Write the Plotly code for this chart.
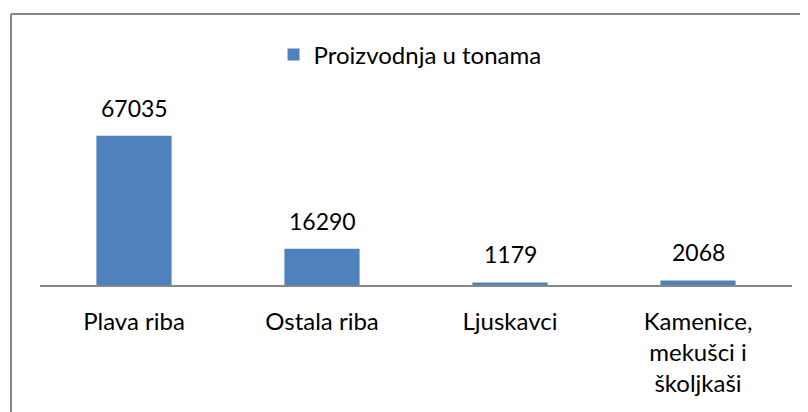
import plotly.graph_objects as go

categories = ["Plava riba", "Ostala riba", "Ljuskavci", "Kamenice,<br>mekušci i<br>školjkaši"]
values = [67035, 16290, 1179, 2068]
series_name = "Proizvodnja u tonama"

FONT = "Lato"
BLUE = "#4F81BD"
GRAY = "#878787"

# page body has an 8px margin, so the figure is 800x404 and offset by 8px
W, H = 800, 404
ml, mr, mt, mb = 32, 16, 99, 127

fig = go.Figure()
fig.add_trace(go.Bar(
    x=categories, y=values, name=series_name,
    marker=dict(color=BLUE, line=dict(width=0)),
    showlegend=True,
))

for c, v in zip(categories, values):
    fig.add_annotation(
        x=c, y=v, text=str(v), showarrow=False,
        yanchor="bottom", yshift=12,
        font=dict(family=FONT, size=23, color="#000000"),
    )

pw = W - ml - mr
ph = H - mt - mb
def px_x(p):
    return (p - ml) / pw
def px_y(p):
    return (H - mb - p) / ph

fig.add_shape(type="line", xref="paper", yref="paper",
              x0=px_x(3), x1=px_x(820), y0=px_y(6), y1=px_y(6),
              line=dict(color=GRAY, width=2))
fig.add_shape(type="line", xref="paper", yref="paper",
              x0=px_x(3), x1=px_x(3), y0=px_y(6), y1=px_y(430),
              line=dict(color=GRAY, width=2))

fig.update_layout(
    width=W, height=H,
    margin=dict(l=ml, r=mr, t=mt, b=mb),
    paper_bgcolor="white", plot_bgcolor="white",
    bargap=0.6,
    font=dict(family=FONT, size=24, color="#000000"),
    legend=dict(orientation="h", x=0.5 - 6 / pw, xanchor="center", y=px_y(47), yanchor="middle",
                font=dict(family=FONT, size=24, color="#000000"),
                itemwidth=30),
    xaxis=dict(showline=True, linecolor=GRAY, linewidth=2, ticks="", showgrid=False,
               tickfont=dict(family=FONT, size=24, color="#000000"), ticklabelstandoff=14),
    yaxis=dict(visible=False, range=[0, 80000], showgrid=False, zeroline=False),
)

fig.write_html("out.html")
